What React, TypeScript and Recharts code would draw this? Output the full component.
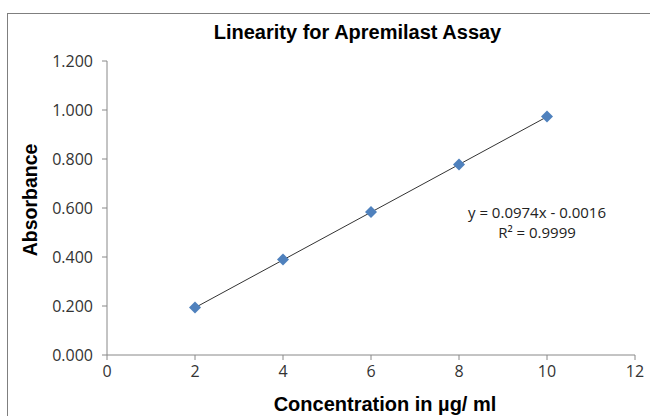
import React from 'react';
import { ScatterChart, Scatter, XAxis, YAxis, ReferenceLine } from 'recharts';

const concentrations = [2, 4, 6, 8, 10];
const absorbances = [0.194, 0.39, 0.584, 0.778, 0.973];
const xTicks = [0, 2, 4, 6, 8, 10, 12];
const yTicks = [0, 0.2, 0.4, 0.6, 0.8, 1.0, 1.2];
// trendline ends, from y = 0.0974x - 0.0016
const trendStart = { x: 2, y: 0.1932 };
const trendEnd = { x: 10, y: 0.9724 };

const data = concentrations.map((c, i) => ({ x: c, y: absorbances[i] }));

const tickFont = { fontFamily: '"Open Sans", sans-serif', fontSize: 16, fill: '#333' };
const boldFont = '"Liberation Sans", Arial, sans-serif';

const Diamond = (props: any) => {
  const { cx, cy } = props;
  const r = 6;
  return (
    <polygon
      points={`${cx},${cy - r} ${cx + r},${cy} ${cx},${cy + r} ${cx - r},${cy}`}
      fill="#4F81BD"
    />
  );
};

const eqStyle: React.CSSProperties = {
  position: 'absolute', left: 440, width: 194, textAlign: 'center',
  fontFamily: '"Open Sans", sans-serif', fontSize: 15, lineHeight: '20px', color: '#222',
};

const App = () => {
  return (
    <div style={{ position: 'absolute', left: 0, top: 0, width: 650, height: 416, background: '#fff', overflow: 'hidden' }}>
      <div
        style={{
          position: 'absolute', left: 7, top: 13, width: 700, height: 500,
          border: '1.5px solid #7f7f7f',
        }}
      />
      <div
        style={{
          position: 'absolute', left: 0, width: 650, top: 21, textAlign: 'center', paddingLeft: 65,
          boxSizing: 'border-box', fontFamily: boldFont, fontWeight: 'bold',
          fontSize: 20, color: '#000',
        }}
      >
        Linearity for Apremilast Assay
      </div>
      <ScatterChart width={650} height={416} margin={{ top: 61, right: 15, bottom: 0, left: 0 }}>
        <XAxis
          type="number"
          dataKey="x"
          domain={[0, 12]}
          ticks={xTicks}
          height={61}
          tick={tickFont}
          tickLine={{ stroke: '#888' }}
          axisLine={{ stroke: '#888' }}
          tickSize={5}
          tickMargin={6}
          label={() => (
            <text
              x={385}
              y={411}
              textAnchor="middle"
              fontFamily={boldFont}
              fontWeight="bold"
              fontSize={20}
              fill="#000"
            >
              Concentration in µg/ ml
            </text>
          )}
        />
        <YAxis
          type="number"
          dataKey="y"
          domain={[0, 1.2]}
          ticks={yTicks}
          width={107}
          tick={tickFont}
          tickFormatter={(v: number) => v.toFixed(3)}
          tickLine={{ stroke: '#888' }}
          axisLine={{ stroke: '#888' }}
          tickSize={5}
          tickMargin={9}
          label={() => (
            <text
              x={37}
              y={200}
              textAnchor="middle"
              transform="rotate(-90 37 200)"
              fontFamily={boldFont}
              fontWeight="bold"
              fontSize={19.5}
              fill="#000"
            >
              Absorbance
            </text>
          )}
        />
        <Scatter data={data} shape={<Diamond />} isAnimationActive={false} />
        <ReferenceLine segment={[trendStart, trendEnd]} stroke="#333" strokeWidth={1} ifOverflow="visible" />
      </ScatterChart>
      <div style={{ ...eqStyle, top: 202 }}>y = 0.0974x - 0.0016</div>
      <div style={{ ...eqStyle, top: 222 }}>R² = 0.9999</div>
    </div>
  );
};

export default App;
